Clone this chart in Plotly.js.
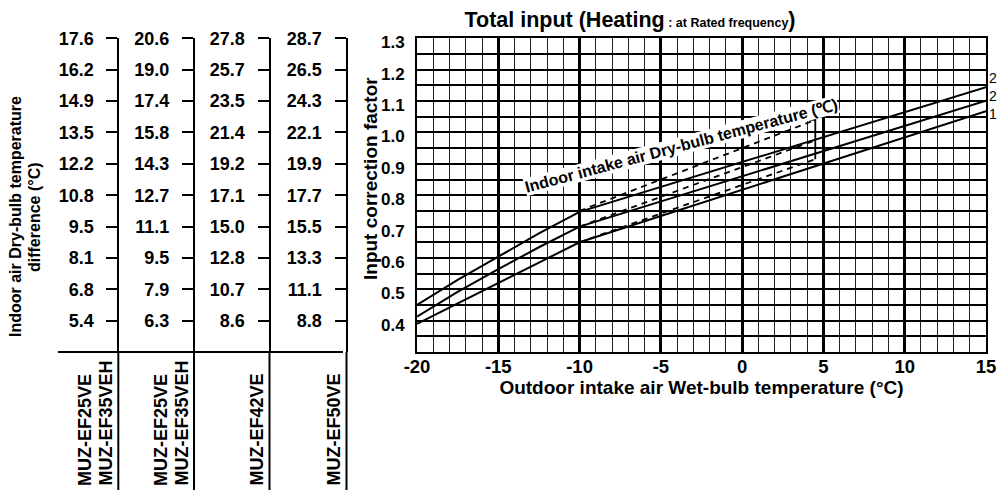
<!DOCTYPE html>
<html><head><meta charset="utf-8">
<script src="https://cdn.plot.ly/plotly-3.0.1.min.js"></script>
<style>html,body{margin:0;padding:0;background:#fff}#chart{width:999px;height:494px}</style>
</head><body><div id="chart"></div>
<script>
// ---------------- data ----------------
const outdoorTemp = [-20, -17.5, -15, -12.5, -10, 15];
const input25 = [0.45, 0.53, 0.604, 0.678, 0.747, 1.144];
const input20 = [0.413, 0.492, 0.564, 0.634, 0.70, 1.101];
const input15 = [0.39, 0.455, 0.519, 0.585, 0.65, 1.068];
const dashedTemp = [-10, 4.5];
const dashed25 = [0.75, 1.04];
const dashed20 = [0.70, 0.975];
const dashed15 = [0.65, 0.915];
const bracketTemp = [4.1, 4.5, 4.5];
const bracketInput = [1.04, 1.04, 0.915];
const curveLabels = ['2', '2', '1'];
const factorTicks = [1.3, 1.2, 1.1, 1.0, 0.9, 0.8, 0.7, 0.6, 0.5, 0.4];
const factorLabels = ['1.3', '1.2', '1.1', '1.0', '0.9', '0.8', '0.7', '0.6', '0.5', '0.4'];
const xTicks = [-20, -15, -10, -5, 0, 5, 10, 15];
const xTickLabels = ['-20', '-15', '-10', '-5', '0', '5', '10', '15'];
const colA = ['17.6', '16.2', '14.9', '13.5', '12.2', '10.8', '9.5', '8.1', '6.8', '5.4'];
const colB = ['20.6', '19.0', '17.4', '15.8', '14.3', '12.7', '11.1', '9.5', '7.9', '6.3'];
const colC = ['27.8', '25.7', '23.5', '21.4', '19.2', '17.1', '15.0', '12.8', '10.7', '8.6'];
const colD = ['28.7', '26.5', '24.3', '22.1', '19.9', '17.7', '15.5', '13.3', '11.1', '8.8'];
const modelsA = ['MUZ-EF25VE', 'MUZ-EF35VEH'];
const modelsB = ['MUZ-EF25VE', 'MUZ-EF35VEH'];
const modelsC = ['MUZ-EF42VE'];
const modelsD = ['MUZ-EF50VE'];

// ---------------- layout geometry (pixels) ----------------
const W = 999, H = 494;
const plotL = 417, plotR = 986, plotT = 38.4, plotB = 352;
const colLineX = [118.3, 194, 269.5, 346.5];
const modelX = [[85, 105], [161, 181], [256.5], [333.5]];
const modelBottom = 488;
const tableBottom = 490, sepL = 58, sepR = 343;
const px = v => v / W;
const py = v => 1 - v / H;
const FONT = 'Liberation Sans, Arial, sans-serif';
const bold = (size, extra) => Object.assign({family: FONT, size: size, color: '#000', weight: 'bold'}, extra || {});

// horizontal grid every half step of the labelled factor ticks
const gridVals = [], gridText = [];
for (let i = 0; i < factorTicks.length; i++) {
  gridVals.push(factorTicks[i]); gridText.push(factorLabels[i]);
  gridVals.push(Math.round((factorTicks[i] - 0.05) * 100) / 100); gridText.push('');
}

const solid = (y) => ({x: outdoorTemp, y: y, mode: 'lines', line: {color: '#000', width: 2}, hoverinfo: 'skip', showlegend: false});
const dashed = (y) => ({x: dashedTemp, y: y, mode: 'lines', line: {color: '#000', width: 1.8, dash: '6px,5px'}, hoverinfo: 'skip', showlegend: false});

const traces = [
  solid(input25), solid(input20), solid(input15),
  dashed(dashed25), dashed(dashed20), dashed(dashed15),
  {x: bracketTemp, y: bracketInput, mode: 'lines', line: {color: '#000', width: 1.8}, hoverinfo: 'skip', showlegend: false}
];
['y3', 'y4', 'y5', 'y6'].forEach(a => traces.push({x: [], y: [], yaxis: a, mode: 'lines', showlegend: false, hoverinfo: 'skip'}));

const tableCols = [colA, colB, colC, colD];
const tableAxis = (i) => ({
  overlaying: 'y', anchor: 'free', side: 'left', position: px(colLineX[i]),
  range: [0.3, 1.3], tickmode: 'array', tickvals: factorTicks, ticktext: tableCols[i],
  ticks: 'outside', ticklen: 11, tickwidth: 2, tickcolor: '#000',
  showline: true, linewidth: 2, linecolor: '#000', showgrid: false, zeroline: false,
  tickfont: bold(18), ticklabelstandoff: 9, fixedrange: true
});

const shapes = [];
colLineX.forEach(x => shapes.push({type: 'line', xref: 'paper', yref: 'paper', x0: px(x), x1: px(x), y0: py(plotB), y1: py(tableBottom), line: {color: '#000', width: 2}}));
shapes.push({type: 'line', xref: 'paper', yref: 'paper', x0: px(sepL), x1: px(sepR), y0: py(plotB), y1: py(plotB), line: {color: '#000', width: 2}});

const annotations = [];
[modelsA, modelsB, modelsC, modelsD].forEach((models, i) => {
  models.forEach((m, j) => annotations.push({
    text: m, xref: 'paper', yref: 'paper', x: px(modelX[i][j]), y: py(modelBottom),
    xanchor: 'center', yanchor: 'bottom', textangle: -90, showarrow: false, font: bold(18)
  }));
});
// left table title (two lines)
annotations.push({text: 'Indoor air Dry-bulb temperature', xref: 'paper', yref: 'paper', x: px(15), y: py(217), xanchor: 'center', yanchor: 'middle', textangle: -90, showarrow: false, font: bold(16)});
annotations.push({text: 'difference (°C)', xref: 'paper', yref: 'paper', x: px(34), y: py(217), xanchor: 'center', yanchor: 'middle', textangle: -90, showarrow: false, font: bold(16)});
// chart y title
annotations.push({text: 'Input correction factor', xref: 'paper', yref: 'paper', x: px(370), y: py(179), xanchor: 'center', yanchor: 'middle', textangle: -90, showarrow: false, font: bold(19)});
// curve end labels (stacked in one block)
const midEnd = input20[input20.length - 1];
annotations.push({
  text: curveLabels.join('<br>'), x: 15, y: midEnd, xref: 'x', yref: 'y', xanchor: 'left', yanchor: 'middle',
  xshift: 1, yshift: 5, showarrow: false, font: {family: FONT, size: 14, color: '#000'}
});
// in-plot label
annotations.push({
  text: 'Indoor intake air Dry-bulb temperature (℃)', x: -3.7, y: 0.957, xref: 'x', yref: 'y',
  xanchor: 'center', yanchor: 'middle', textangle: -15, showarrow: false, bgcolor: '#fff', borderpad: 0,
  font: bold(16)
});

const layout = {
  width: W, height: H, margin: {l: 0, r: 0, t: 0, b: 0},
  paper_bgcolor: '#fff', plot_bgcolor: '#fff', showlegend: false,
  font: {family: FONT, color: '#000'},
  title: {
    text: 'Total input (Heating<span style="font-size:12.5px"> : at Rated frequency</span>)',
    x: px(630), xref: 'paper', xanchor: 'center', y: py(19), yref: 'paper', yanchor: 'middle',
    font: bold(21.5)
  },
  xaxis: {
    domain: [px(plotL), px(plotR)], range: [-20, 15], tickmode: 'array', tickvals: xTicks, ticktext: xTickLabels,
    ticks: '', showgrid: true, gridcolor: '#000', gridwidth: 3, zeroline: false,
    minor: {dtick: 1, tick0: -20, showgrid: true, gridcolor: '#222', gridwidth: 1},
    showline: true, mirror: true, linecolor: '#000', linewidth: 2,
    tickfont: bold(18.5), ticklabelstandoff: -3, fixedrange: true,
    title: {text: 'Outdoor intake air Wet-bulb temperature (°C)', font: bold(19), standoff: 2}
  },
  yaxis: {
    domain: [py(plotB), py(plotT)], range: [0.3, 1.3], tickmode: 'array', tickvals: gridVals, ticktext: gridText,
    ticks: '', showgrid: true, gridcolor: '#000', gridwidth: 2, zeroline: false,
    showline: true, mirror: true, linecolor: '#000', linewidth: 2,
    tickfont: bold(17), ticklabelstandoff: 7, ticklabelshift: 4, fixedrange: true
  },
  yaxis3: tableAxis(0), yaxis4: tableAxis(1), yaxis5: tableAxis(2), yaxis6: tableAxis(3),
  shapes: shapes, annotations: annotations
};

Plotly.newPlot('chart', traces, layout, {staticPlot: true, displayModeBar: false});
</script>
</body></html>
